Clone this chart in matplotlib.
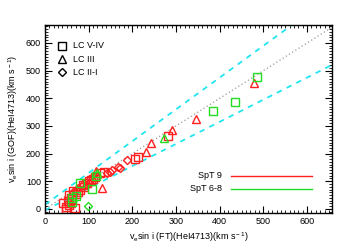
import matplotlib
matplotlib.use("Agg")
import matplotlib.pyplot as plt
import numpy as np
from matplotlib.ticker import MultipleLocator

plt.rcParams["font.family"] = ["Liberation Sans", "DejaVu Sans"]
plt.rcParams["mathtext.fontset"] = "custom"
plt.rcParams["mathtext.rm"] = "Liberation Sans"
plt.rcParams["mathtext.it"] = "Liberation Sans:italic"

# Data (FT, GOF)
red_sq_x = [281, 214, 206, 95, 87, 64, 56, 42, 48, 48, 69, 75, 80, 100, 105, 110, 60, 52, 70, 90, 115, 125, 135, 55, 62]
red_sq_y = [264, 187, 180, 93, 87, 63, 51, 21, 6, 0, 3, 60, 70, 100, 105, 108, 40, 30, 55, 80, 115, 130, 135, 15, 35]
red_tr_x = [478, 345, 290, 243, 231, 117, 131, 60, 85]
red_tr_y = [454, 325, 285, 240, 204, 138, 75, 20, 90]
red_di_x = [188, 168, 172, 142, 148, 153, 120, 100, 95, 75, 65]
red_di_y = [177, 151, 147, 130, 135, 141, 115, 95, 85, 75, 60]
grn_sq_x = [485, 435, 384, 117, 79, 107, 61, 61, 70]
grn_sq_y = [478, 388, 355, 119, 95, 71, 26, 40, 45]
grn_tr_x = [272, 120]
grn_tr_y = [255, 129]
grn_di_x = [99]
grn_di_y = [11]

upper_slope, upper_icpt = 1.15, 15
lower_slope, lower_icpt = 0.8, -5

RED = "#ff2020"
GRN = "#22dd22"
CYAN = "#22e5f0"

fig = plt.figure(figsize=(3.5, 2.5), dpi=100)
ax = fig.add_axes([0.1286, 0.148, 0.82, 0.752])
xl = np.array([0, 660])
ax.plot(xl, xl, ls=(0, (1, 2)), color="#999999", lw=0.9)
ax.plot(xl, upper_slope * xl + upper_icpt, ls=(0, (3, 3)), color=CYAN, lw=1.3)
ax.plot(xl, lower_slope * xl + lower_icpt, ls=(0, (3, 3)), color=CYAN, lw=1.3)

kw = dict(ls="none", mfc="none", ms=5.5, mew=1.0)
dkw = dict(ls="none", mfc="none", ms=4.5, mew=1.0)
ax.plot(red_sq_x, red_sq_y, marker="s", mec=RED, **kw)
ax.plot(red_tr_x, red_tr_y, marker="^", mec=RED, **kw)
ax.plot(red_di_x, red_di_y, marker="D", mec=RED, **dkw)
ax.plot(grn_sq_x, grn_sq_y, marker="s", mec=GRN, **kw)
ax.plot(grn_tr_x, grn_tr_y, marker="^", mec=GRN, **kw)
ax.plot(grn_di_x, grn_di_y, marker="D", mec=GRN, **dkw)

ax.set_xlim(0, 657)
ax.set_ylim(-15, 665)
ax.xaxis.set_major_locator(MultipleLocator(100))
ax.yaxis.set_major_locator(MultipleLocator(100))
ax.xaxis.set_minor_locator(MultipleLocator(10))
ax.yaxis.set_minor_locator(MultipleLocator(10))
ax.tick_params(which="both", direction="in", top=True, right=True, labelsize=6.5, pad=3)
ax.tick_params(which="major", length=5, width=0.8)
ax.tick_params(which="minor", length=2.5, width=0.6)
for s in ax.spines.values():
    s.set_linewidth(1.0)

ax.set_xlabel(r"v$_{\rm e}$sin i (FT)(HeI4713)(km s$^{\rm -1}$)", fontsize=6.5, labelpad=3)
ax.set_ylabel(r"v$_{\rm e}$sin i (GOF)(HeI4713)(km s$^{\rm -1}$)", fontsize=6.5, labelpad=4)

# Legend (LC)
lx, ly = 40, 590
for i, (m, lab) in enumerate([("s", "LC V-IV"), ("^", "LC III"), ("D", "LC II-I")]):
    yy = ly - i * 48
    ax.plot([lx], [yy], marker=m, mfc="none", mec="black", ms=5.5 if m != "D" else 4.5, mew=1.0, ls="none")
    ax.text(lx + 25, yy, lab, fontsize=6.5, va="center", ha="left")

# Legend (SpT)
for yy, col, lab in [(120, RED, "SpT 9"), (73, GRN, "SpT 6-8")]:
    ax.plot([425, 612], [yy, yy], color=col, lw=1.0)
    ax.text(405, yy, lab, fontsize=6.5, va="center", ha="right")

fig.savefig("out.png", dpi=100)
